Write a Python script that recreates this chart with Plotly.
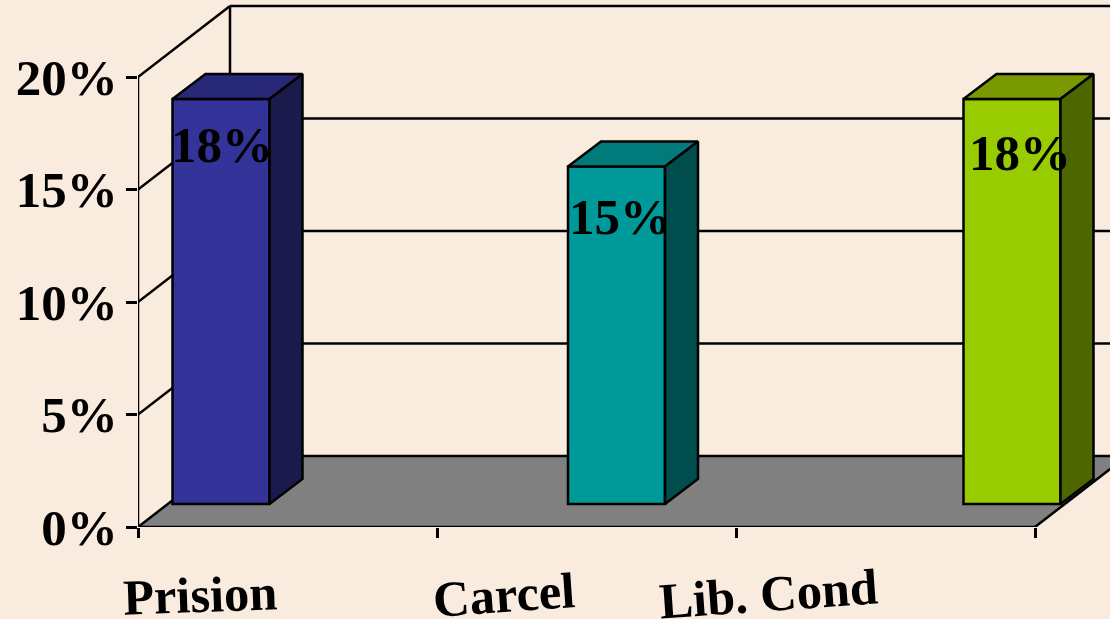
import plotly.graph_objects as go

categories = ["Prision", "Carcel", "Lib. Cond"]
values = [18, 15, 18]
value_labels = ["18%", "15%", "18%"]
y_ticks = [0, 5, 10, 15, 20]
y_tick_labels = ["0%", "5%", "10%", "15%", "20%"]
front_colors = ["#333399", "#009999", "#99CC00"]
top_colors = ["#29297A", "#007A7A", "#7A9900"]
side_colors = ["#1A1A4D", "#004D4D", "#4D6600"]

BG = "#FAEBDF"
FLOOR = "#808080"
FONT = "Liberation Serif"
LW = 2.5
PX_X = 299.0   # pixels per x unit
PX_Y = 22.5    # pixels per percentage point
WALL_DX, WALL_DY = 92 / PX_X, 71 / PX_Y
BAR_DX, BAR_DY = 33 / PX_X, 25 / PX_Y
BAR_W = 97 / PX_X
BAR_BASE = 23 / PX_Y
BAR_START, BAR_STEP = 83 / PX_X, 395.5 / PX_X
X_END = 3.0
LABEL_SHIFT_X = [1, 3, 8]
LABEL_DROP = [2.04, 2.25, 2.40]
CAT_X = [200, 504, 768.5]
CAT_Y = [595, 595, 594]
CAT_ANGLE = [-2, -4, -4]


def path(points):
    return "M " + " L ".join(f"{x:.4f} {y:.4f}" for x, y in points) + " Z"


def line(x0, y0, x1, y1):
    return dict(type="line", xref="x", yref="y", x0=x0, y0=y0, x1=x1, y1=y1,
                line=dict(color="black", width=LW), layer="below")


shapes = [
    dict(type="path", xref="x", yref="y", layer="below", fillcolor=FLOOR,
         line=dict(color="black", width=LW),
         path=path([(0, 0), (X_END, 0), (X_END + WALL_DX, WALL_DY), (WALL_DX, WALL_DY)])),
    line(0, 0, 0, y_ticks[-1]),
    line(WALL_DX, WALL_DY, WALL_DX, y_ticks[-1] + WALL_DY),
]
for t in y_ticks[1:]:
    shapes.append(line(0, t, WALL_DX, t + WALL_DY))
    shapes.append(line(WALL_DX, t + WALL_DY, X_END + WALL_DX, t + WALL_DY))

centers = [BAR_START + i * BAR_STEP for i in range(len(values))]

fig = go.Figure()
fig.add_trace(go.Bar(
    x=centers, y=values, base=BAR_BASE, width=BAR_W,
    marker=dict(color=front_colors, line=dict(color="black", width=LW)),
    hoverinfo="skip", showlegend=False,
))

for c, v, tc, sc in zip(centers, values, top_colors, side_colors):
    left, right = c - BAR_W / 2, c + BAR_W / 2
    bottom, top = BAR_BASE, BAR_BASE + v
    fig.add_trace(go.Scatter(
        x=[left, right, right + BAR_DX, left + BAR_DX, left],
        y=[top, top, top + BAR_DY, top + BAR_DY, top],
        mode="lines", fill="toself", fillcolor=tc,
        line=dict(color="black", width=LW), hoverinfo="skip", showlegend=False,
    ))
    fig.add_trace(go.Scatter(
        x=[right, right + BAR_DX, right + BAR_DX, right, right],
        y=[top, top + BAR_DY, bottom + BAR_DY, bottom, top],
        mode="lines", fill="toself", fillcolor=sc,
        line=dict(color="black", width=LW), hoverinfo="skip", showlegend=False,
    ))

annotations = []
for c, v, lab, sx, drop in zip(centers, values, value_labels, LABEL_SHIFT_X, LABEL_DROP):
    annotations.append(dict(
        x=c + sx / PX_X, y=BAR_BASE + v - drop, xref="x", yref="y", text=f"<b>{lab}</b>",
        showarrow=False, xanchor="center", yanchor="middle",
        font=dict(family=FONT, size=51, color="black"),
    ))
for name, cx, cy, ang in zip(categories, CAT_X, CAT_Y, CAT_ANGLE):
    annotations.append(dict(
        x=(cx - 138) / 972, y=(527 - cy) / 527, xref="paper", yref="paper", text=f"<b>{name}</b>",
        showarrow=False, xanchor="center", yanchor="middle", textangle=ang,
        font=dict(family=FONT, size=50.5, color="black"),
    ))

fig.update_layout(
    width=1110, height=619,
    margin=dict(l=138, r=0, t=0, b=92, pad=0),
    paper_bgcolor=BG, plot_bgcolor=BG,
    shapes=shapes, annotations=annotations, showlegend=False,
    xaxis=dict(range=[0, 972 / PX_X], tickmode="array", tickvals=[0, 1, 2, 3],
               showticklabels=False, ticks="outside", ticklen=10, tickwidth=LW,
               tickcolor="black", showgrid=False, zeroline=False, showline=False),
    yaxis=dict(range=[0, 527 / PX_Y], tickmode="array", tickvals=y_ticks,
               ticktext=[f"<b>{t}</b>" for t in y_tick_labels],
               ticks="outside", ticklen=11, tickwidth=LW, tickcolor="black",
               ticklabelstandoff=-2,
               tickfont=dict(family=FONT, size=51, color="black"),
               showgrid=False, zeroline=False, showline=False),
)

fig.write_html(
    "out.html",
    config={"displayModeBar": False},
    post_script="document.body.style.margin='0';document.body.style.background='" + BG + "';window.dispatchEvent(new Event('resize'));",
)
